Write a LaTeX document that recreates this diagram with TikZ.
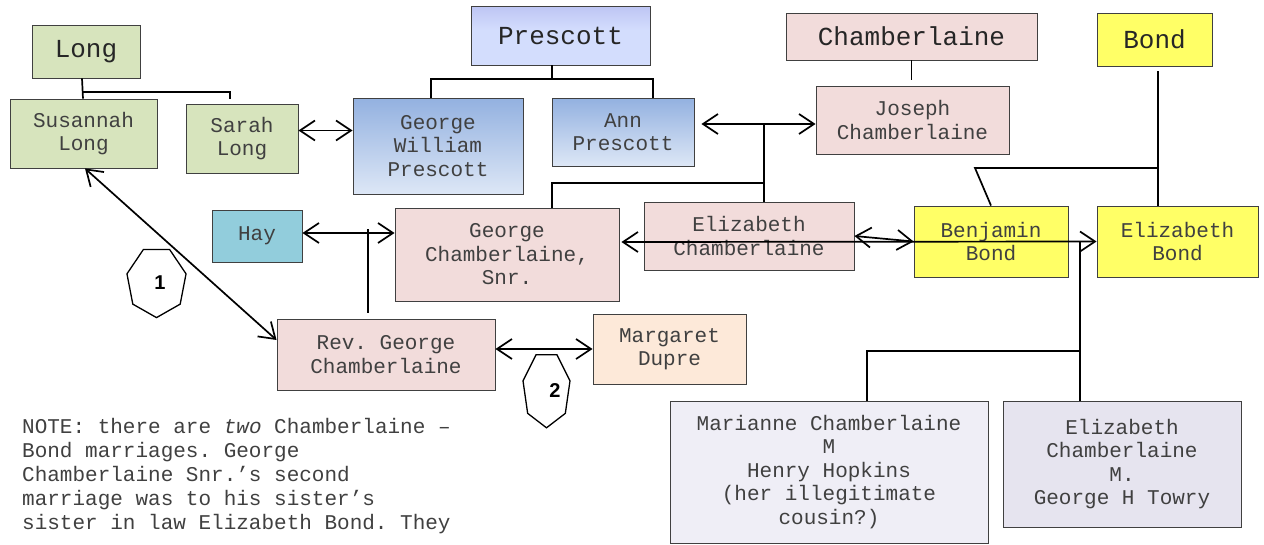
\documentclass[tikz,border=0pt]{standalone}
\usepackage{fontspec}
\setmonofont{Liberation Mono}
\setsansfont{Liberation Sans}
\usetikzlibrary{arrows.meta}
\definecolor{leaf}{HTML}{D7E4BD}
\definecolor{rose}{HTML}{F2DCDB}
\definecolor{sky}{HTML}{92CDDC}
\definecolor{lemon}{HTML}{FFFF66}
\definecolor{peach}{HTML}{FDE9D9}
\definecolor{lilac}{HTML}{EFEEF6}
\definecolor{lilacdark}{HTML}{E6E4EF}
\definecolor{steeltop}{HTML}{93B1E0}
\definecolor{steelbottom}{HTML}{DDE7F6}
\definecolor{clantop}{HTML}{A3A7E8}
\definecolor{clanmid}{HTML}{D3DDFD}
\definecolor{clanbottom}{HTML}{A9B6A8}
\pgfdeclareverticalshading{clanshade}{100bp}{color(0bp)=(clanbottom); color(7bp)=(clanmid);
  color(55bp)=(clanmid); color(100bp)=(clantop)}

\begin{document}
\begin{tikzpicture}[
  x=1pt, y=-1pt,
  box/.style={draw=black!75, line width=0.9pt, align=center, inner sep=1pt,
    text=black!75, font=\fontsize{21}{23.5}\selectfont\ttfamily},
  clan/.style={box, font=\fontsize{26}{30}\selectfont\ttfamily, text=black!85},
  link/.style={line width=1.7pt},
  num/.style={font=\fontsize{20}{20}\selectfont\sffamily\bfseries, inner sep=0pt},
  >={Straight Barb[length=15pt,width=20pt]}
]
  \useasboundingbox (0,0) rectangle (1264,544);

  % families
  \node (long) [clan, fill=leaf, minimum width=108pt, minimum height=53pt] at (86,51.5) {Long};
  \node (prescott) [clan, shading=clanshade, minimum width=179pt, minimum height=59pt] at (560.5,35.5) {Prescott};
  \node (chamb) [clan, fill=rose, minimum width=251pt, minimum height=47pt] at (911.5,36.5) {Chamberlaine};
  \node (bond) [clan, fill=lemon, minimum width=115pt, minimum height=53pt] at (1154.5,39.5) {Bond};

  % people
  \node (susannah) [box, fill=leaf, minimum width=147pt, minimum height=69pt] at (83.5,133.5) {Susannah\\Long};
  \node (sarah) [box, fill=leaf, minimum width=112pt, minimum height=69pt] at (242,138.5) {Sarah\\Long};
  \node (gwp) [box, top color=steeltop, bottom color=steelbottom,
    minimum width=170pt, minimum height=96pt] at (438,146) {George\\William\\Prescott};
  \node (ann) [box, top color=steeltop, bottom color=steelbottom,
    minimum width=142pt, minimum height=68pt] at (623,132) {Ann\\Prescott};
  \node (joseph) [box, fill=rose, minimum width=193pt, minimum height=68pt] at (912.5,120) {Joseph\\Chamberlaine};
  \node (hay) [box, fill=sky, minimum width=90pt, minimum height=52pt] at (257,236) {Hay};
  \node (gcs) [box, fill=rose, minimum width=224pt, minimum height=93pt] at (507,254.5) {George\\Chamberlaine,\\Snr.};
  \node (elizc) [box, fill=rose, minimum width=210pt, minimum height=68pt] at (749,236) {Elizabeth\\Chamberlaine};
  \node (benjamin) [box, fill=lemon, minimum width=154pt, minimum height=71pt] at (991,241.5) {Benjamin\\Bond};
  \node (elizb) [box, fill=lemon, minimum width=161pt, minimum height=71pt] at (1177.5,241.5) {Elizabeth\\Bond};
  \node (rev) [box, fill=rose, minimum width=218pt, minimum height=71pt] at (386,354.5) {Rev. George\\Chamberlaine};
  \node (margaret) [box, fill=peach, minimum width=153pt, minimum height=70pt] at (669.5,349) {Margaret\\Dupre};
  \node (marianne) [box, fill=lilac, minimum width=318pt, minimum height=142pt] at (829,472)
    {Marianne Chamberlaine\\M\\Henry Hopkins\\(her illegitimate\\cousin?)};
  \node (elizm) [box, fill=lilacdark, minimum width=238pt, minimum height=126pt] at (1122,464)
    {Elizabeth\\Chamberlaine\\M.\\George H Towry};

  % note
  \node (note) [anchor=north west, align=left, inner sep=0pt, text=black!75,
    font=\fontsize{21}{24}\selectfont\ttfamily] at (22,418)
    {NOTE: there are \textit{two} Chamberlaine –\\Bond marriages. George\\Chamberlaine Snr.’s second\\marriage was to his sister’s\\sister in law Elizabeth Bond. They};

  % junctions
  \coordinate (pj) at (552,79);
  \coordinate (lj) at (83,92);
  \coordinate (aj) at (764,124);
  \coordinate (cj) at (764,183);
  \coordinate (bj) at (1158,168);
  \coordinate (kj) at (1080,242);
  \coordinate (mj) at (1080,351);

  % descent lines
  \draw[link] ([xshift=-4pt]long.south) -- ([xshift=-0.5pt]susannah.north);
  \draw[link] (lj) -| ([shift={(-12pt,5pt)}]sarah.north);
  \draw[link] ([xshift=-8.5pt]prescott.south) -- (pj);
  \draw[link] ([xshift=-7pt]gwp.north) |- (pj) -| ([xshift=30pt]ann.north);
  \draw[link] (chamb.south) -- ++(0,20);
  \draw[link] (aj) -- (aj |- elizc.north);
  \draw[link] ([xshift=45pt]gcs.north) |- (cj);
  \draw[link] ([shift={(3.5pt,-5pt)}]bond.south) -- ([xshift=-19.5pt]elizb.north);
  \draw[link] (bj) -- ++(-183,0) -- (benjamin.north);
  \draw[link] ([shift={(-18pt,6pt)}]rev.north) -- ++(0,-84);
  \draw[link] (kj) -- (kj |- elizm.north);
  \draw[link] ([xshift=38pt]marianne.north) |- (mj);

  % marriages
  \draw[link, <->] ([yshift=8pt]sarah.east) -- ([yshift=8pt]sarah.east -| gwp.west);
  \draw[link, <->] ([shift={(7pt,8pt)}]ann.east) -- ([yshift=8pt]ann.east -| joseph.west);
  \draw[link, <->] ([yshift=3pt]hay.east) -- ([yshift=3pt]hay.east -| gcs.west);
  \draw[link, <->] ([shift={(2pt,12.5pt)}]gcs.east) -- (elizb.west);
  \draw[link, <->] (elizc.east) -- (benjamin.west);
  \draw[link, <->] ([xshift=1.5pt]susannah.south) -- ([yshift=14.5pt]rev.west);
  \draw[link, <->] ([yshift=5.5pt]rev.east) -- (margaret.west);

  % marriage numbers
  \draw[line width=1.3pt, shift={(156.5,281.8)}, xscale=30.3, yscale=35.8]
    (90:1) \foreach \k in {1,...,6} {-- (90+\k*360/7:1)} -- cycle;
  \node (one) [num] at (160,283) {1};
  \draw[line width=1.3pt, shift={(546.5,389.4)}, xscale=24.1, yscale=38.4]
    (90:1) \foreach \k in {1,...,6} {-- (90+\k*360/7:1)} -- cycle;
  \node (two) [num] at (555,391) {2};
\end{tikzpicture}
\end{document}
